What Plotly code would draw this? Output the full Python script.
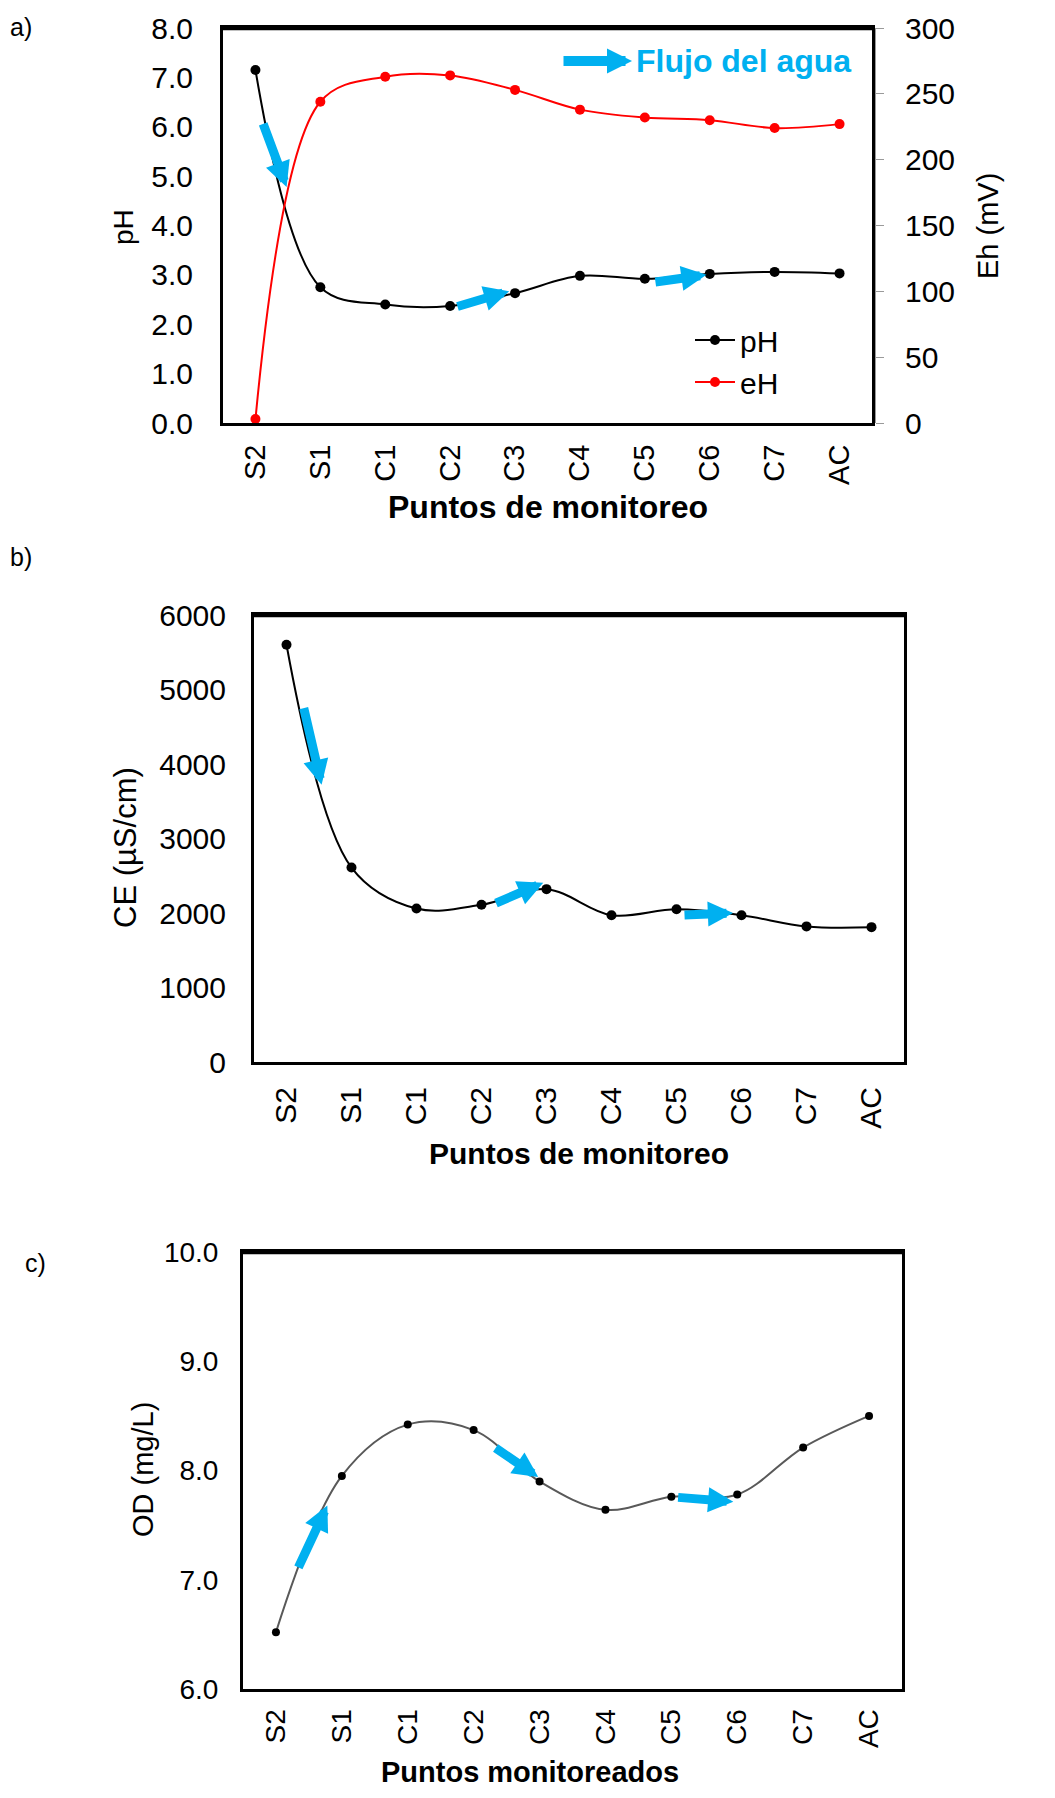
import plotly.graph_objects as go

# ---------------- data ----------------
categories = ["S2", "S1", "C1", "C2", "C3", "C4", "C5", "C6", "C7", "AC"]
ph_values = [7.15, 2.75, 2.40, 2.37, 2.63, 2.98, 2.92, 3.02, 3.06, 3.03]
eh_values = [3, 244, 263, 264, 253, 238, 232, 230, 224, 227]
ce_values = [5600, 2610, 2060, 2110, 2320, 1970, 2050, 1970, 1820, 1810]
od_values = [6.52, 7.95, 8.42, 8.37, 7.90, 7.64, 7.76, 7.78, 8.21, 8.50]

ph_ticks = [0, 1, 2, 3, 4, 5, 6, 7, 8]
eh_ticks = [0, 50, 100, 150, 200, 250, 300]
ce_ticks = [0, 1000, 2000, 3000, 4000, 5000, 6000]
od_ticks = [6, 7, 8, 9, 10]

# flow arrows (tail x, tail y, tip x, tip y) in axis units (x = category index)
arrows_a = [(0.11, 6.09, 0.48, 4.78), (3.09, 2.35, 3.91, 2.67), (6.14, 2.85, 6.95, 3.00)]
arrows_b = [(0.26, 4770, 0.54, 3720), (3.20, 2125, 3.95, 2405), (6.10, 1973, 6.87, 2000)]
arrows_c = [(0.33, 7.10, 0.78, 7.68), (3.31, 8.215, 3.98, 7.94), (6.08, 7.755, 6.94, 7.714)]

W, H = 1055, 1798
FONT = "Liberation Sans, Arial, sans-serif"
BLUE = "#00B0F0"


def px(x):
    return x / W


def py(y):
    return 1 - y / H


fig = go.Figure()

fig.add_trace(go.Scatter(
    x=categories, y=ph_values, name="pH", mode="lines+markers",
    line=dict(color="black", width=2, shape="spline", smoothing=1),
    marker=dict(color="black", size=10), xaxis="x", yaxis="y"))
fig.add_trace(go.Scatter(
    x=categories, y=eh_values, name="eH", mode="lines+markers",
    line=dict(color="#FF0000", width=2, shape="spline", smoothing=1),
    marker=dict(color="#FF0000", size=10), xaxis="x", yaxis="y2"))
fig.add_trace(go.Scatter(
    x=categories, y=ce_values, name="CE", mode="lines+markers", showlegend=False,
    line=dict(color="black", width=2, shape="spline", smoothing=1),
    marker=dict(color="black", size=10), xaxis="x2", yaxis="y3"))
fig.add_trace(go.Scatter(
    x=categories, y=od_values, name="OD", mode="lines+markers", showlegend=False,
    line=dict(color="#595959", width=2, shape="spline", smoothing=1),
    marker=dict(color="black", size=8), xaxis="x3", yaxis="y4"))

frame = dict(showline=True, linecolor="black", linewidth=3, mirror=True,
             showgrid=False, zeroline=False, automargin=False)


def xax(domain, anchor, size, standoff):
    return dict(domain=domain, anchor=anchor, type="category",
                categoryorder="array", categoryarray=categories,
                range=[-0.5, 9.5], tickangle=-90, ticks="",
                ticklabelstandoff=standoff,
                tickfont=dict(family=FONT, size=size, color="black"), **frame)


def yax(domain, anchor, rng, vals, fmt, size, standoff):
    return dict(domain=domain, anchor=anchor, range=rng, tickvals=vals,
                tickformat=fmt, ticks="", ticklabelstandoff=standoff,
                tickfont=dict(family=FONT, size=size, color="black"), **frame)


fig.update_layout(
    width=W, height=H, margin=dict(l=0, r=0, t=0, b=0, autoexpand=False),
    paper_bgcolor="white", plot_bgcolor="white",
    xaxis=xax([px(223), px(872)], "y", 29, 7),
    yaxis=yax([py(423), py(28)], "x", [0, 8], ph_ticks, ".1f", 30, 21),
    yaxis2=dict(overlaying="y", side="right", anchor="free", position=px(875),
                range=[0, 300], tickvals=eh_ticks, showgrid=False, zeroline=False,
                showline=True, linecolor="#9a9a9a", linewidth=1, automargin=False,
                ticks="outside", ticklen=8, tickcolor="#9a9a9a", tickwidth=1,
                ticklabelstandoff=15,
                tickfont=dict(family=FONT, size=30, color="black")),
    xaxis2=xax([px(254), px(904)], "y3", 30, 10),
    yaxis3=yax([py(1062), py(615)], "x2", [0, 6000], ce_ticks, "d", 30, 19),
    xaxis3=xax([px(243), px(902)], "y4", 28, 6),
    yaxis4=yax([py(1689), py(1252)], "x3", [6, 10], od_ticks, ".1f", 28, 16),
    legend=dict(x=px(690), y=py(314), xanchor="left", yanchor="top",
                bgcolor="rgba(0,0,0,0)", font=dict(family=FONT, size=30, color="black"),
                itemwidth=40, tracegroupgap=0),
    showlegend=True,
)

# heavier top edge of each plot frame, as in the reference
shapes = []
for (x0, x1, y0) in [(223, 872, 28), (254, 904, 615), (243, 902, 1252)]:
    shapes.append(dict(type="line", xref="paper", yref="paper",
                       x0=px(x0 - 1.5), x1=px(x1 + 1.5), y0=py(y0), y1=py(y0),
                       line=dict(color="black", width=4.5)))
fig.update_layout(shapes=shapes)

ann = []


def text_ann(text, x, y, size, angle=0, color="black"):
    ann.append(dict(text=text, x=px(x), y=py(y), xref="paper", yref="paper",
                    xanchor="center", yanchor="middle", showarrow=False,
                    textangle=angle, font=dict(family=FONT, size=size, color=color)))


# panel labels
text_ann("a)", 21, 27, 25)
text_ann("b)", 21, 557, 25)
text_ann("c)", 35, 1263, 25)

# axis titles
text_ann("pH", 123, 227, 28, -90)
text_ann("Eh (mV)", 988, 226, 29, -90)
text_ann("<b>Puntos de monitoreo</b>", 548, 507, 32)
text_ann("CE (µS/cm)", 125, 848, 31, -90)
text_ann("<b>Puntos de monitoreo</b>", 579, 1153, 30)
text_ann("OD (mg/L)", 143, 1470, 29, -90)
text_ann("<b>Puntos monitoreados</b>", 530, 1772, 29)

# "Flujo del agua" key
ann.append(dict(text="<b>Flujo del agua</b>", x=px(634), y=py(61), xref="paper", yref="paper",
                xanchor="left", yanchor="middle", showarrow=False,
                font=dict(family=FONT, size=32, color=BLUE)))
ann.append(dict(text="", x=px(632), y=py(61), xref="paper", yref="paper",
                ax=-70, ay=0, axref="pixel", ayref="pixel", showarrow=True,
                arrowhead=2, arrowsize=0.5, arrowwidth=10, arrowcolor=BLUE, standoff=0))


def add_arrows(lst, xr, yr):
    for (tx, ty, hx, hy) in lst:
        ann.append(dict(text="", x=hx, y=hy, xref=xr, yref=yr,
                        ax=tx, ay=ty, axref=xr, ayref=yr, showarrow=True,
                        arrowhead=2, arrowsize=0.56, arrowwidth=9,
                        arrowcolor=BLUE, standoff=0))


add_arrows(arrows_a, "x", "y")
add_arrows(arrows_b, "x2", "y3")
add_arrows(arrows_c, "x3", "y4")

fig.update_layout(annotations=ann)

fig.write_html("out.html")
